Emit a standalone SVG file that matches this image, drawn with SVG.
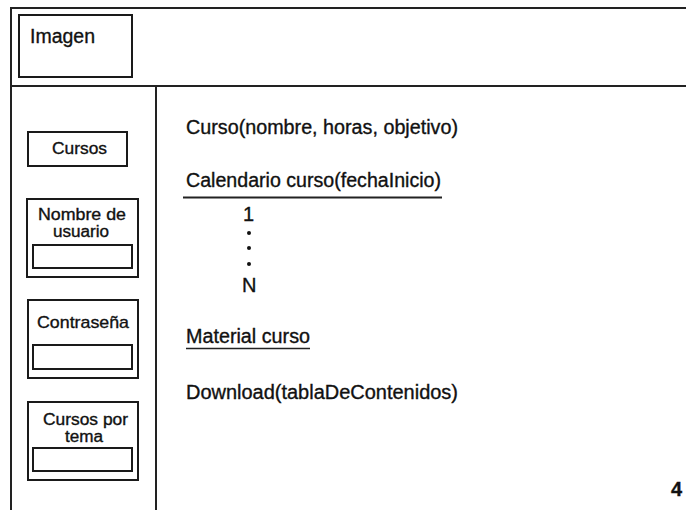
<svg xmlns="http://www.w3.org/2000/svg" width="686" height="510" viewBox="0 0 686 510">
<style>
.ln{stroke:#222;stroke-width:2;fill:none}
.bx{stroke:#1a1a1a;stroke-width:2;fill:#fff}
.t{font-family:"Liberation Sans",Arial,sans-serif;fill:#111;stroke:#111;stroke-width:0.35}
.m{font-size:20px}
.s{font-size:17px}
.s2{font-size:16px}
</style>
<rect width="686" height="510" fill="#fff"/>
<g id="frame">
<rect class="ln" x="11" y="8" width="690" height="520"/>
<line class="ln" x1="11" y1="86" x2="700" y2="86"/>
<line class="ln" x1="156" y1="86" x2="156" y2="520"/>
</g>
<g id="imagen">
<rect class="bx" x="19" y="15" width="113" height="62"/>
<text class="t m" x="30" y="43" textLength="65" lengthAdjust="spacingAndGlyphs">Imagen</text>
</g>
<g id="cursos">
<rect class="bx" x="28" y="132" width="99" height="34"/>
<text class="t s" x="52" y="154" textLength="55" lengthAdjust="spacingAndGlyphs">Cursos</text>
</g>
<g id="usuario">
<rect class="bx" x="27" y="199" width="111" height="78"/>
<text class="t s2" x="38" y="220" textLength="88" lengthAdjust="spacingAndGlyphs">Nombre de</text>
<text class="t s2" x="53" y="237" textLength="56" lengthAdjust="spacingAndGlyphs">usuario</text>
<rect class="bx" x="33" y="245" width="99" height="23"/>
</g>
<g id="contrasena">
<rect class="bx" x="28" y="300" width="110" height="78"/>
<text class="t s" x="37" y="328" textLength="92" lengthAdjust="spacingAndGlyphs">Contraseña</text>
<rect class="bx" x="33" y="345" width="99" height="24"/>
</g>
<g id="cursosportema">
<rect class="bx" x="28" y="402" width="110" height="78"/>
<text class="t s2" x="43" y="425" textLength="85" lengthAdjust="spacingAndGlyphs">Cursos por</text>
<text class="t s2" x="65" y="442" textLength="38" lengthAdjust="spacingAndGlyphs">tema</text>
<rect class="bx" x="33" y="448" width="99" height="23"/>
</g>
<g id="content">
<text class="t m" x="186" y="134" textLength="272" lengthAdjust="spacingAndGlyphs">Curso(nombre, horas, objetivo)</text>
<text class="t m" x="186" y="187" textLength="255" lengthAdjust="spacingAndGlyphs">Calendario curso(fechaInicio)</text>
<line class="ln" x1="183" y1="197.5" x2="442" y2="197.5"/>
<text class="t m" x="243" y="221">1</text>
<circle cx="249" cy="233" r="2" fill="#111"/>
<circle cx="249" cy="248" r="2" fill="#111"/>
<circle cx="249" cy="264" r="2" fill="#111"/>
<text class="t m" x="242" y="292">N</text>
<text class="t m" x="186" y="343" textLength="124" lengthAdjust="spacingAndGlyphs">Material curso</text>
<line x1="186" y1="348.5" x2="310" y2="348.5" stroke="#222" stroke-width="1.5"/>
<text class="t m" x="186" y="399" textLength="272" lengthAdjust="spacingAndGlyphs">Download(tablaDeContenidos)</text>
<text class="t m" x="671" y="496" font-weight="bold">4</text>
</g>
</svg>
